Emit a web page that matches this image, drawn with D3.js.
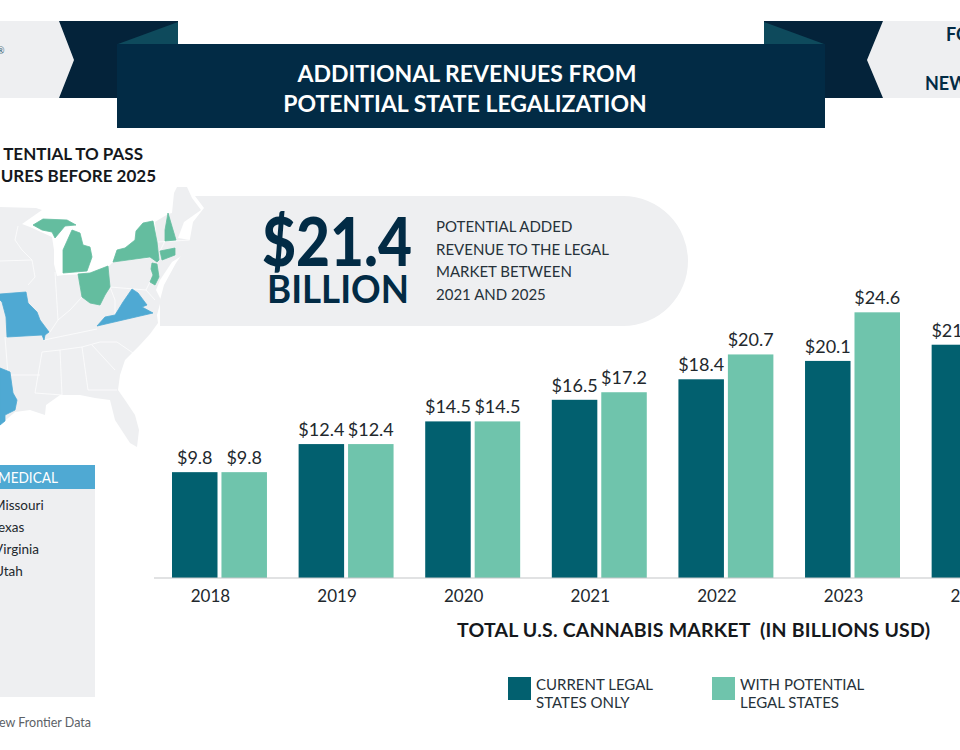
<!DOCTYPE html>
<html>
<head>
<meta charset="utf-8">
<script src="https://cdn.jsdelivr.net/npm/d3@7"></script>
<style>
html, body { margin: 0; padding: 0; background: #fff; overflow: hidden; }
svg { display: block; font-family: Lato, sans-serif; }
</style>
</head>
<body>
<div id="chart"></div>
<script>
var years = ['2018', '2019', '2020', '2021', '2022', '2023', '2024'];
var currentOnly = [9.8, 12.4, 14.5, 16.5, 18.4, 20.1, 21.6];
// the 2024 "with potential" bar falls outside the picture
var withPotential = [9.8, 12.4, 14.5, 17.2, 20.7, 24.6, null];
var seriesNames = ['current', 'potential'];
var seriesColors = ['#02606f', '#6fc4ac'];
var legendLabels = [['CURRENT LEGAL', 'STATES ONLY'], ['WITH POTENTIAL', 'LEGAL STATES']];
var titleLines = ['ADDITIONAL REVENUES FROM', 'POTENTIAL STATE LEGALIZATION'];
var mapTitleLines = ['TENTIAL TO PASS', 'URES BEFORE 2025'];
var calloutLines = ['POTENTIAL ADDED', 'REVENUE TO THE LEGAL', 'MARKET BETWEEN', '2021 AND 2025'];
var medicalStates = ['Missouri', 'exas', 'Virginia', 'Utah'];

var navy = '#022b45';
var tail = '#04233a';
var fold = '#0e4a5c';
var grey = '#eeeff1';
var blue = '#4fa9d3';
var green = '#64bd9f';

// map outlines
var land = 'M0,207 L36,208 L42,210 L22,224 L30,227 L52,237 L54,250 L54,264 L57,276 L64,275 L88,274 L108,267 L113,262 L150,258 L157,243 L155,222 L168,214 L172,213 L174,193 L177,187 L187,187 L192,198 L201,210 L184,222 L178,238 L190,240 L191,250 L172,262 L160,280 L156,290 L161,300 L157,315 L158,323 L150,334 L140,345 L125,360 L120,375 L118,390 L125,400 L135,415 L139,430 L137,447 L130,443 L115,420 L110,400 L95,398 L80,395 L60,395 L46,405 L45,415 L30,410 L15,412 L0,425 Z';
var borders = [
    'M18,226 L15,240 L22,250 L32,260 L35,277 L28,285',
    'M0,261 L32,260',
    'M55,272 L58,320',
    'M82,297 L70,310 L58,320 L50,332',
    'M44,340 L97,329',
    'M42,352 L60,350 L82,347 L100,342 L117,342 L133,353',
    'M92,345 L115,370',
    'M5,337 L8,375 L40,375',
    'M42,352 L35,393 L62,395',
    'M60,350 L62,395',
    'M82,347 L88,390 L117,390',
    'M110,287 L146,290',
    'M110,287 L115,300 L115,315',
    'M123,302 L135,290',
    'M158,242 L190,240',
    'M160,251 L165,241',
    'M150,282 L146,290 L155,300'
];
var legalStates = [
    'M33,225 L43,219 L67,220 L76,225 L65,226 L55,238 L52,232 L42,230 Z',
    'M63,273 L63,250 L72,230 L80,233 L83,245 L90,247 L92,257 L87,271 Z',
    'M78,274 L90,273 L108,266 L110,287 L105,295 L100,305 L90,303 L82,297 Z',
    'M113,262 L117,250 L125,248 L135,240 L136,231 L143,223 L153,221 L157,242 L159,260 L157,262 L150,257 Z',
    'M168,213 L176,240 L165,241 L165,230 Z',
    'M160,251 L175,248 L175,255 L162,260 Z',
    'M152,263 L157,264 L159,277 L155,285 L150,282 L153,275 L151,269 Z'
];
var medicalShapes = [
    'M0,294 L26,292 L28,303 L37,312 L40,320 L49,332 L45,335 L44,340 L42,335 L7,337 L6,317 L2,302 L0,300 Z',
    'M0,368 L10,372 L13,393 L17,400 L15,410 L5,415 L5,421 L0,425 Z',
    'M97,326 L105,317 L115,315 L123,302 L132,289 L138,293 L147,305 L142,307 L153,313 Z'
];

var svg = d3.select('#chart')
            .append('svg')
            .attr('width', 960)
            .attr('height', 750);

function drawHeader() {
    svg.append('path').attr('d', 'M0,21 L59,21 L74,60 L59,98 L0,98 Z').attr('fill', grey);
    svg.append('path').attr('d', 'M960,21 L883,21 L867,60 L883,98 L960,98 Z').attr('fill', grey);
    svg.append('path').attr('d', 'M59,21 L178,21 L178,50 L117,98 L59,98 L74,60 Z').attr('fill', tail);
    svg.append('path').attr('d', 'M883,21 L764,21 L764,50 L825,98 L883,98 L867,60 Z').attr('fill', tail);
    svg.append('path').attr('d', 'M118,44 L178,22 L178,44 Z').attr('fill', fold);
    svg.append('path').attr('d', 'M764,22 L824,44 L764,44 Z').attr('fill', fold);
    svg.append('rect')
       .attr('x', 117).attr('y', 44)
       .attr('width', 708).attr('height', 84)
       .attr('fill', navy);

    svg.selectAll('.title')
       .data(titleLines)
       .enter()
       .append('text')
       .attr('class', 'title')
       .attr('x', (d, i) => i === 0 ? 467 : 465)
       .attr('y', (d, i) => 82 + i * 29.5)
       .attr('text-anchor', 'middle')
       .attr('fill', '#fff')
       .style('font-size', '23px')
       .style('font-weight', 700)
       .text(d => d);

    svg.append('text').attr('x', -3).attr('y', 54)
       .attr('fill', '#3c6272').style('font-size', '9px').text('®');
    svg.append('text').attr('x', 946).attr('y', 41)
       .attr('fill', navy).style('font-size', '18px').style('font-weight', 700).text('FO');
    svg.append('text').attr('x', 925).attr('y', 90)
       .attr('fill', navy).style('font-size', '18px').style('font-weight', 700).text('NEW');
}

function drawMap() {
    svg.selectAll('.map-title')
       .data(mapTitleLines)
       .enter()
       .append('text')
       .attr('class', 'map-title')
       .attr('x', (d, i) => i === 0 ? 143 : 156)
       .attr('y', (d, i) => 160 + i * 22)
       .attr('text-anchor', 'end')
       .attr('fill', '#15181c')
       .style('font-size', '17px')
       .style('font-weight', 700)
       .text(d => d);

    svg.append('path').attr('d', land).attr('fill', grey);

    svg.selectAll('.border')
       .data(borders)
       .enter()
       .append('path')
       .attr('class', 'border')
       .attr('d', d => d)
       .attr('fill', 'none')
       .attr('stroke', '#fff')
       .attr('stroke-opacity', 0.7)
       .attr('stroke-width', 1);

    svg.selectAll('.legal')
       .data(legalStates)
       .enter()
       .append('path')
       .attr('class', 'legal')
       .attr('d', d => d)
       .attr('fill', green)
       .attr('stroke', green)
       .attr('stroke-width', 0.8)
       .attr('stroke-linejoin', 'round');

    svg.selectAll('.medical')
       .data(medicalShapes)
       .enter()
       .append('path')
       .attr('class', 'medical')
       .attr('d', d => d)
       .attr('fill', blue)
       .attr('stroke', blue)
       .attr('stroke-width', 0.8)
       .attr('stroke-linejoin', 'round');
}

function drawCallout() {
    svg.append('path')
       .attr('d', 'M195,196 L623,196 A65,65 0 0 1 623,326 L160,326 L160,300 L164,285 L176,263 L189,244 L193,222 L204,208 Z')
       .attr('fill', grey);

    svg.append('text')
       .attr('x', 262).attr('y', 266)
       .attr('textLength', 150)
       .attr('lengthAdjust', 'spacingAndGlyphs')
       .attr('fill', navy)
       .style('font-size', '66px')
       .style('font-weight', 900)
       .text('$21.4');

    svg.append('text')
       .attr('x', 267).attr('y', 303)
       .attr('textLength', 142)
       .attr('lengthAdjust', 'spacingAndGlyphs')
       .attr('fill', navy)
       .style('font-size', '38px')
       .style('font-weight', 700)
       .text('BILLION');

    svg.selectAll('.callout')
       .data(calloutLines)
       .enter()
       .append('text')
       .attr('class', 'callout')
       .attr('x', 436)
       .attr('y', (d, i) => 232 + i * 22.6)
       .attr('fill', '#26323a')
       .style('font-size', '15px')
       .text(d => d);
}

function drawPanel() {
    svg.append('rect').attr('x', 0).attr('y', 489).attr('width', 95).attr('height', 208).attr('fill', grey);
    svg.append('rect').attr('x', 0).attr('y', 465).attr('width', 95).attr('height', 24).attr('fill', blue);
    svg.append('text').attr('x', -2).attr('y', 483)
       .attr('textLength', 60)
       .attr('lengthAdjust', 'spacingAndGlyphs')
       .attr('fill', '#fff').style('font-size', '15px').text('MEDICAL');

    svg.selectAll('.state')
       .data(medicalStates)
       .enter()
       .append('text')
       .attr('class', 'state')
       .attr('x', (d, i) => [-7, -2, -6, -6][i])
       .attr('y', (d, i) => 510 + i * 22)
       .attr('fill', '#22282d')
       .style('font-size', '13.5px')
       .text(d => d);

    svg.append('text').attr('x', -4).attr('y', 727)
       .attr('fill', '#5c6166').style('font-size', '12.5px').text('lew Frontier Data');
}

function drawBars() {
    var baseline = 578;

    var x = d3.scaleBand()
              .domain(years)
              .range([172, 1026.6])
              .paddingInner(0.25);

    var inner = d3.scaleBand()
                  .domain(seriesNames)
                  .range([0, x.bandwidth()])
                  .paddingInner(0.08);

    var y = d3.scaleLinear()
              .domain([0, 25])
              .range([baseline, baseline - 270]);

    var rows = [];
    years.forEach((year, i) => {
        rows.push({ year: year, series: 'current', value: currentOnly[i] });
        if (withPotential[i] !== null) {
            rows.push({ year: year, series: 'potential', value: withPotential[i] });
        }
    });

    var color = d3.scaleOrdinal().domain(seriesNames).range(seriesColors);

    svg.selectAll('.bar')
       .data(rows)
       .enter()
       .append('rect')
       .attr('class', 'bar')
       .attr('x', d => x(d.year) + inner(d.series))
       .attr('y', d => y(d.value))
       .attr('width', inner.bandwidth())
       .attr('height', d => baseline - y(d.value))
       .attr('fill', d => color(d.series));

    svg.selectAll('.value')
       .data(rows)
       .enter()
       .append('text')
       .attr('class', 'value')
       .attr('x', d => x(d.year) + inner(d.series) + inner.bandwidth() / 2)
       .attr('y', d => y(d.value) - 8)
       .attr('text-anchor', 'middle')
       .attr('fill', '#22282d')
       .style('font-size', '18px')
       .text(d => '$' + d.value.toFixed(1));

    svg.append('line')
       .attr('x1', 154).attr('x2', 960)
       .attr('y1', baseline).attr('y2', baseline)
       .attr('stroke', '#c4c6c8')
       .attr('stroke-width', 1.2);

    var axis = svg.append('g')
                  .attr('transform', `translate(0,${baseline})`)
                  .call(d3.axisBottom(x).tickSize(0));
    axis.select('.domain').remove();
    axis.selectAll('text')
        .attr('dx', -9)
        .attr('y', 12)
        .attr('fill', '#22282d')
        .style('font-family', 'Lato, sans-serif')
        .style('font-size', '17px');

    svg.append('text')
       .attr('x', 457).attr('y', 637)
       .attr('textLength', 473)
       .attr('fill', '#15181c')
       .style('font-size', '19.5px')
       .style('font-weight', 700)
       .style('white-space', 'pre')
       .text('TOTAL U.S. CANNABIS MARKET  (IN BILLIONS USD)');
}

function drawLegend() {
    var legendX = d3.scaleOrdinal().domain(seriesNames).range([508, 712]);

    var items = svg.selectAll('.legend')
                   .data(seriesNames)
                   .enter()
                   .append('g')
                   .attr('class', 'legend')
                   .attr('transform', d => `translate(${legendX(d)},677)`);

    items.append('rect')
         .attr('width', 23)
         .attr('height', 23)
         .attr('fill', (d, i) => seriesColors[i]);

    items.each(function(d, i) {
        d3.select(this)
          .selectAll('text')
          .data(legendLabels[i])
          .enter()
          .append('text')
          .attr('x', 28)
          .attr('y', (t, j) => 13 + j * 18)
          .attr('fill', '#26323a')
          .style('font-size', '15px')
          .text(t => t);
    });
}

drawHeader();
drawMap();
drawCallout();
drawPanel();
drawBars();
drawLegend();
</script>
</body>
</html>
